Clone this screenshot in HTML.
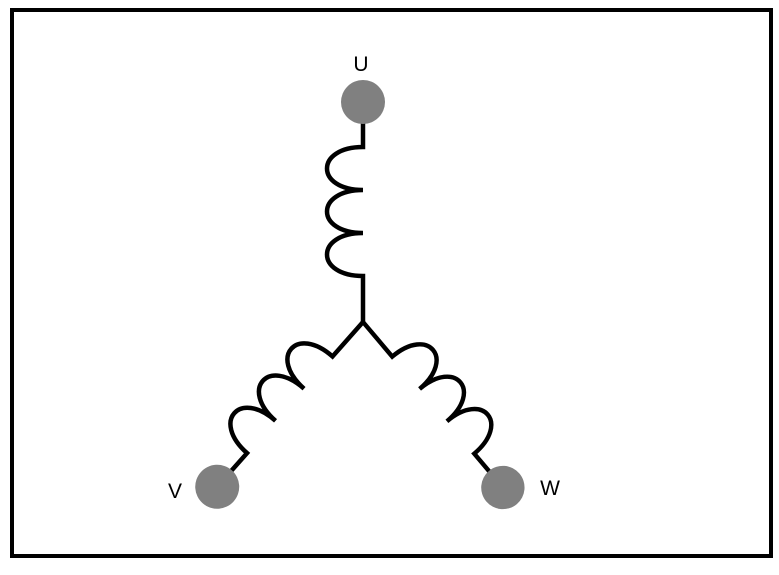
<!DOCTYPE html>
<html><head><style>
html,body{margin:0;padding:0;background:#fff;}
</style></head><body>
<svg width="779" height="570" xmlns="http://www.w3.org/2000/svg">
<rect x="12" y="10" width="759" height="546" fill="#fff" stroke="#000" stroke-width="4"/>
<defs>
<g id="arm">
<path d="M0,0 L0,-46 C-48,-46 -48,-89 0,-89 C-48,-89 -48,-132 0,-132 C-48,-132 -48,-175 0,-175 L0,-200" fill="none" stroke="#000" stroke-width="4.5"/>
<circle cx="0" cy="-220" r="22" fill="#808080"/>
</g>
</defs>
<use href="#arm" transform="translate(363,322)"/>
<use href="#arm" transform="translate(363,322) rotate(221.5) scale(-1,1)"/>
<use href="#arm" transform="translate(363,322) rotate(139.8) scale(0.985)"/>
<g font-family="Liberation Sans, sans-serif" font-size="21" fill="#000" text-anchor="middle">
<text x="361" y="71">U</text>
<text x="175" y="498">V</text>
<text x="550" y="495">W</text>
</g>
</svg>
</body></html>
